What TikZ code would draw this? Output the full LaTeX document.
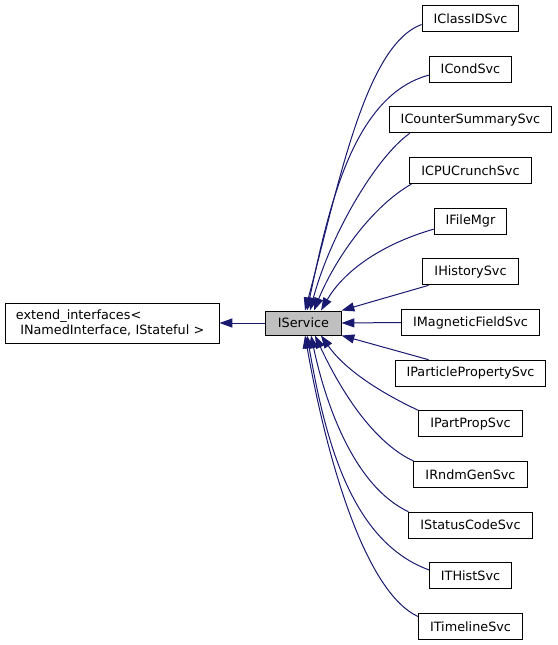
\documentclass[tikz,border=0pt]{standalone}
\usepackage{fontspec}
\setmainfont{DejaVu Sans}
\usetikzlibrary{arrows.meta}
\definecolor{edgeblue}{HTML}{191970}
\definecolor{basegray}{HTML}{BFBFBF}

\begin{document}
\begin{tikzpicture}[x=1pt,y=1pt,>={Triangle[length=12.8pt,width=9pt]},
  box/.style={draw=black,line width=1pt,fill=white,inner xsep=11.5pt,inner ysep=0pt,
    minimum height=26pt,font=\fontsize{12.8}{15}\selectfont},
  edge/.style={->,draw=edgeblue,line width=1pt}]
  \useasboundingbox (0,0) rectangle (557,-645);

  % 基类
  \node[box,minimum height=40pt,text width=192pt,inner xsep=11pt,align=left]
    (extiface) at (112,-323) {extend\_interfaces<\\\ INamedInterface, IStateful >};
  \node[box,fill=basegray,minimum height=24pt,inner xsep=12pt] (IService) at (303.5,-323) {IService};
  \draw[edge] (IService.west) -- (extiface.east);

  % 派生接口
  \foreach \n [count=\i from 0] in {IClassIDSvc,ICondSvc,ICounterSummarySvc,ICPUCrunchSvc,
    IFileMgr,IHistorySvc,IMagneticFieldSvc,IParticlePropertySvc,IPartPropSvc,
    IRndmGenSvc,IStatusCodeSvc,ITHistSvc,ITimelineSvc}
    \node[box] (\n) at (470.5,{-18.5-50.67*\i}) {\n};

  % 继承关系 (上方)
  \draw[edge] ([yshift=-6pt]IClassIDSvc.west) to[out=200,in=75,out distance=60pt,in distance=130pt] ([xshift=1.5pt]IService.north);
  \draw[edge] ([yshift=-6pt]ICondSvc.west) to[out=195,in=78,out distance=80pt,in distance=100pt] ([xshift=3.5pt]IService.north);
  \draw[edge] ([xshift=21pt]ICounterSummarySvc.south west) to[out=215,in=75,out distance=40pt,in distance=80pt] ([xshift=6.5pt]IService.north);
  \draw[edge] ([xshift=2pt]ICPUCrunchSvc.south west) to[out=210,in=68,out distance=50pt,in distance=50pt] ([xshift=10.5pt]IService.north);
  \draw[edge] ([yshift=-8pt]IFileMgr.west) to[out=196,in=60,out distance=55pt,in distance=45pt] ([xshift=17.5pt]IService.north);
  \draw[edge] ([xshift=6pt]IHistorySvc.south west) -- (IService.north east);

  % 继承关系 (中间)
  \draw[edge] (IMagneticFieldSvc.west) -- (IService.east);
  \draw[edge] ([xshift=34pt]IParticlePropertySvc.north west) -- (IService.south east);

  % 继承关系 (下方)
  \draw[edge] (IPartPropSvc.north west) to[out=155,in=-55,out distance=35pt,in distance=45pt] ([xshift=17.5pt]IService.south);
  \draw[edge] (IRndmGenSvc.north west) to[out=155,in=-65,out distance=45pt,in distance=60pt] ([xshift=11.5pt]IService.south);
  \draw[edge] (IStatusCodeSvc.north west) to[out=155,in=-78,out distance=60pt,in distance=70pt] ([xshift=7.5pt]IService.south);
  \draw[edge] ([yshift=6pt]ITHistSvc.west) to[out=160,in=-80,out distance=85pt,in distance=100pt] ([xshift=3.5pt]IService.south);
  \draw[edge] ([yshift=10pt]ITimelineSvc.west) to[out=155,in=-80,out distance=60pt,in distance=120pt] ([xshift=1.5pt]IService.south);
\end{tikzpicture}
\end{document}
